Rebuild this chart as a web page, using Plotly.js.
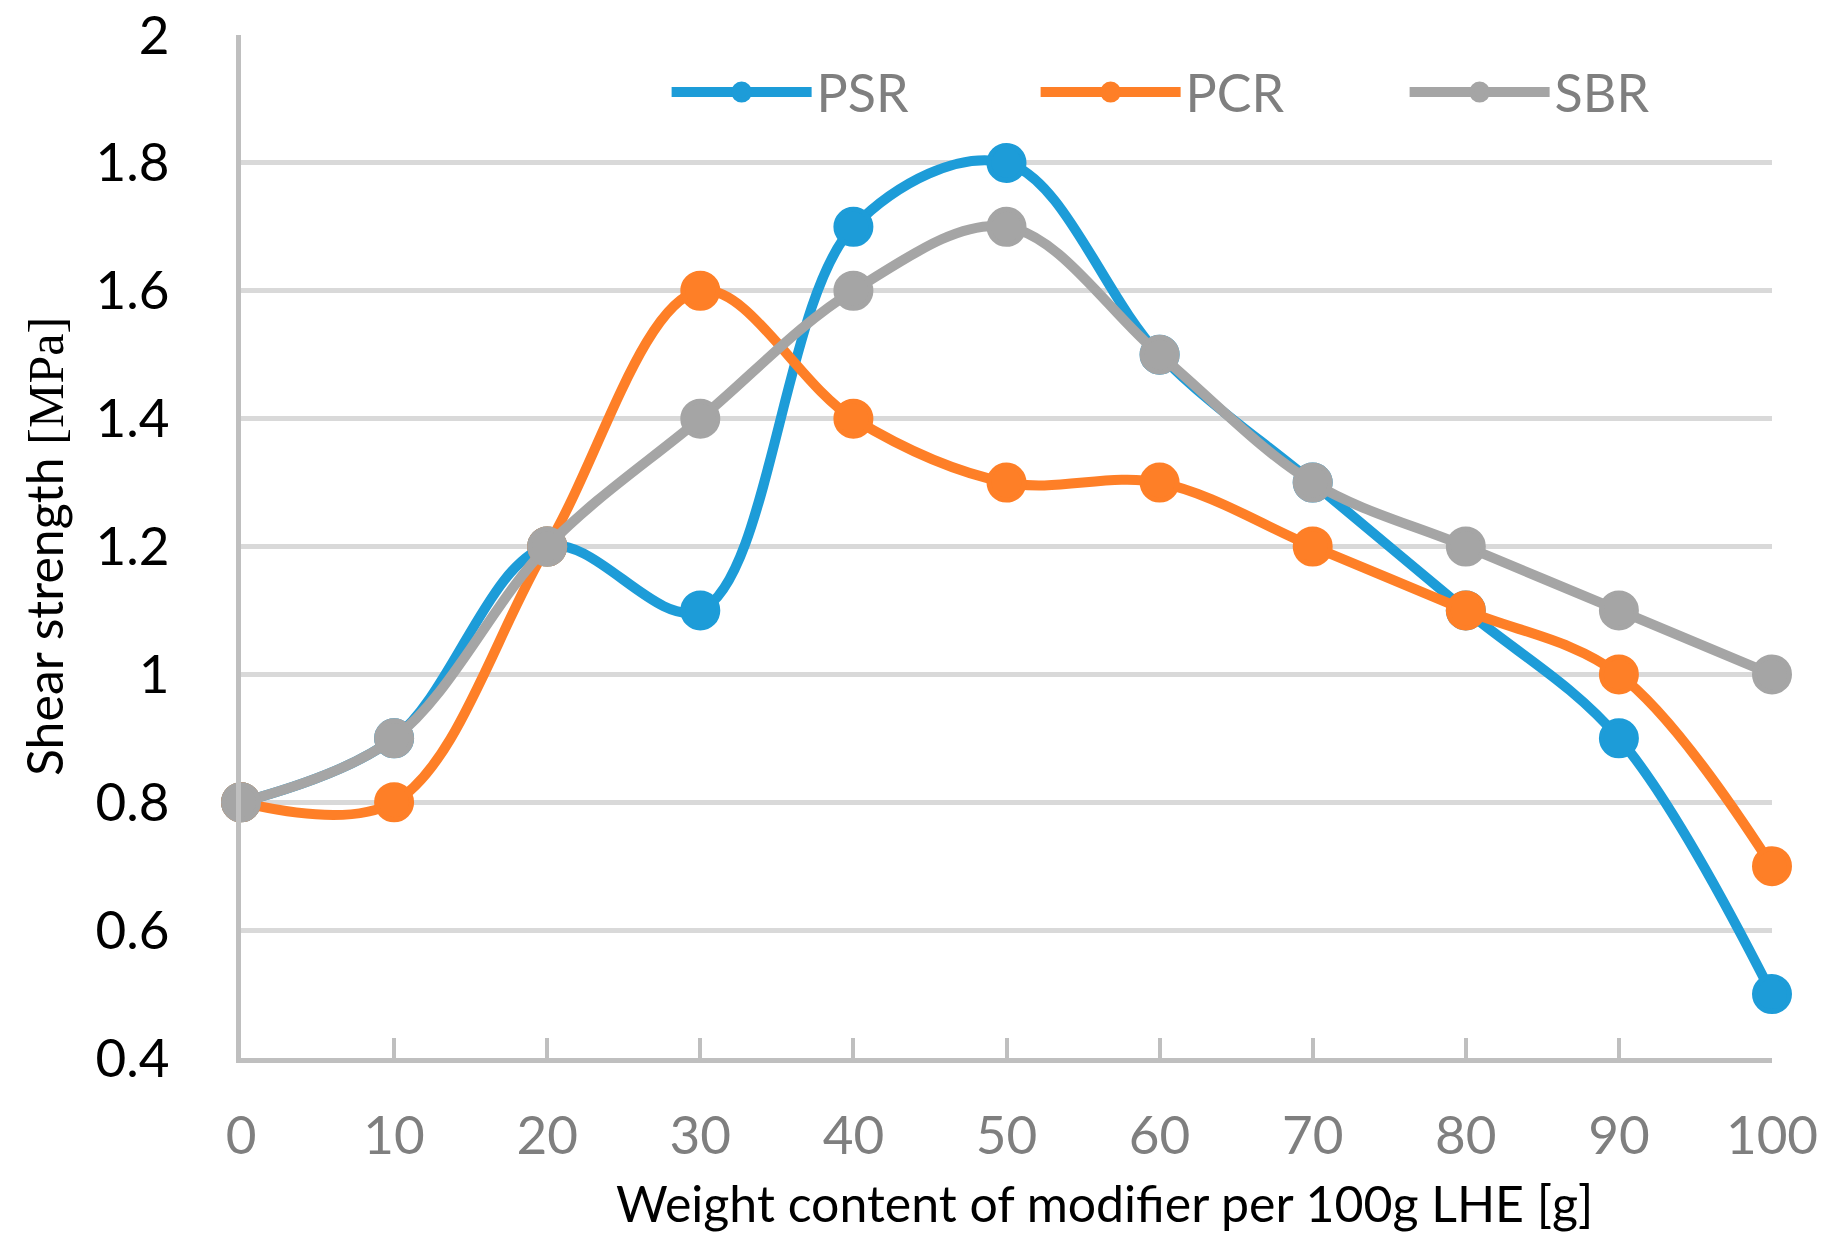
<!DOCTYPE html>
<html>
<head>
<meta charset="utf-8">
<script src="https://cdn.plot.ly/plotly-3.0.1.min.js"></script>
<style>html,body{margin:0;padding:0;background:#fff;}#chart{width:1847px;height:1245px;}</style>
</head>
<body>
<div id="chart"></div>
<script>
const xValues = [0, 10, 20, 30, 40, 50, 60, 70, 80, 90, 100];
const psr = [0.8, 0.9, 1.2, 1.1, 1.7, 1.8, 1.5, 1.3, 1.1, 0.9, 0.5];
const pcr = [0.8, 0.8, 1.2, 1.6, 1.4, 1.3, 1.3, 1.2, 1.1, 1.0, 0.7];
const sbr = [0.8, 0.9, 1.2, 1.4, 1.6, 1.7, 1.5, 1.3, 1.2, 1.1, 1.0];
const seriesNames = ['PSR', 'PCR', 'SBR'];
const seriesColors = ['#1d9cd8', '#fe7f27', '#a5a5a5'];
const xTicks = [0, 10, 20, 30, 40, 50, 60, 70, 80, 90, 100];
const yTicks = [0.4, 0.6, 0.8, 1.0, 1.2, 1.4, 1.6, 1.8, 2.0];
const yTickLabels = ['0.4', '0.6', '0.8', '1', '1.2', '1.4', '1.6', '1.8', '2'];
const xTitle = 'Weight content of modifier per 100g LHE [g]';
const yTitle = 'Shear strength <span style="font-family:\'Liberation Serif\', serif">[MPa]</span>';

const FONT = 'Lato, "Open Sans", sans-serif';
const allSeries = [psr, pcr, sbr];
const traces = allSeries.map((ys, i) => ({
  type: 'scatter',
  mode: 'lines+markers',
  name: seriesNames[i],
  x: xValues,
  y: ys,
  line: {color: seriesColors[i], width: 10, shape: 'spline', smoothing: 1},
  marker: {color: seriesColors[i], size: 35, line: {color: seriesColors[i], width: 5}},
  cliponaxis: false
}));

const layout = {
  width: 1847,
  height: 1245,
  paper_bgcolor: '#ffffff',
  plot_bgcolor: '#ffffff',
  margin: {l: 241, r: 75, t: 35, b: 187},
  font: {family: FONT, color: '#000000', size: 50},
  showlegend: true,
  legend: {
    orientation: 'h',
    x: 0.278, xanchor: 'left',
    y: 0.944, yanchor: 'middle',
    font: {family: FONT, size: 52, color: '#7f7f7f'},
    itemwidth: 140,
    entrywidth: 214,
    entrywidthmode: 'pixels',
    bgcolor: 'rgba(0,0,0,0)',
    traceorder: 'normal'
  },
  xaxis: {
    range: [0, 100],
    tickvals: xTicks,
    ticktext: xTicks.map(String),
    showgrid: false,
    zeroline: false,
    showline: true,
    linecolor: '#bfbfbf',
    linewidth: 5,
    ticks: 'inside',
    ticklen: 20,
    tickwidth: 4,
    tickcolor: '#bfbfbf',
    tickfont: {family: FONT, size: 53, color: '#7f7f7f'},
    ticklabelstandoff: 27,
    fixedrange: true
  },
  yaxis: {
    range: [0.4, 2.0],
    tickvals: yTicks,
    ticktext: yTickLabels,
    showgrid: true,
    gridcolor: '#d9d9d9',
    gridwidth: 5,
    zeroline: false,
    showline: true,
    linecolor: '#bfbfbf',
    linewidth: 5,
    ticks: '',
    tickfont: {family: FONT, size: 53, color: '#000000'},
    ticklabelstandoff: 56,
    title: {text: yTitle, font: {family: FONT, size: 50, color: '#000000'}, standoff: 17},
    fixedrange: true
  },
  annotations: [{
    text: xTitle,
    xref: 'paper', yref: 'paper',
    x: 0.564, y: -0.142,
    xanchor: 'center', yanchor: 'middle',
    showarrow: false,
    font: {family: FONT, size: 50, color: '#000000'}
  }]
};

Plotly.newPlot('chart', traces, layout, {displayModeBar: false, staticPlot: true});
</script>
</body>
</html>
